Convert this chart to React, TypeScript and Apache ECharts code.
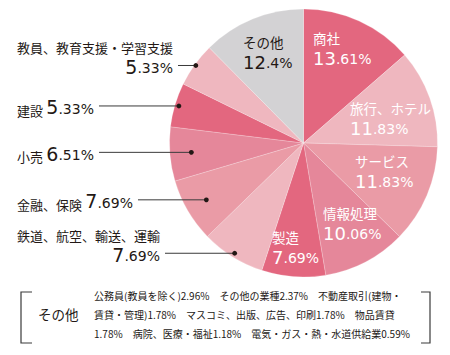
import React, { useEffect, useRef } from "react";
import * as echarts from "echarts";

// Share of employers, clockwise from the top
const categories = [
  "商社",
  "旅行、ホテル",
  "サービス",
  "情報処理",
  "製造",
  "鉄道、航空、輸送、運輸",
  "金融、保険",
  "小売",
  "建設",
  "教員、教育支援・学習支援",
  "その他",
];
const shares = [13.61, 11.83, 11.83, 10.06, 7.69, 7.69, 7.69, 6.51, 5.33, 5.33, 12.4];

// Breakdown of "その他" (line breaks mark where the note wraps)
const otherNames = [
  "公務員(教員を除く)",
  "その他の業種",
  "不動産取引(建物・\n賃貸・管理)",
  "マスコミ、出版、広告、印刷",
  "物品賃貸\n",
  "病院、医療・福祉",
  "電気・ガス・熱・水道供給業",
];
const otherShares = [2.96, 2.37, 1.78, 1.78, 1.78, 1.18, 0.59];

const DARK = "#e3677f";
const MID = "#e5879a";
const SOFT = "#ea9ba6";
const LIGHT = "#efb7bf";
const GREY = "#d3d2d4";
const sliceColors = [DARK, LIGHT, SOFT, MID, DARK, LIGHT, SOFT, MID, DARK, LIGHT, GREY];

const INK = "#231815";
const LINE = "#3a3a3a";
const CJK = '"Noto Sans CJK JP", sans-serif';
const NUM = '"DejaVu Sans", sans-serif';

// pie geometry in pixels
const CX = 303.5;
const CY = 143;
const R = 134;

// inside labels: left edge and centre of the percentage line
const insideLabelAnchor: Record<number, [number, number]> = {
  0: [313, 56],
  1: [350, 126],
  2: [355, 179],
  3: [323, 231],
  4: [272, 255],
  10: [243, 60],
};
// radial position (fraction of R) of the leader-line dot for each outside label
const dotRadial: Record<number, number> = { 5: 0.97, 6: 0.84, 7: 0.84, 8: 0.97, 9: 0.99 };
const twoLineOutside = new Set([5, 9]);
const OUT_LEFT = 17;
const LINE_H = 22;

const total = shares.reduce((a, b) => a + b, 0);
const midAngles: number[] = [];
{
  let acc = 0;
  shares.forEach((v) => {
    midAngles.push(((acc + v / 2) / total) * 360);
    acc += v;
  });
}
const polar = (deg: number, r: number): [number, number] => {
  const a = (deg * Math.PI) / 180;
  return [CX + Math.sin(a) * r, CY - Math.cos(a) * r];
};

const pctRich = (v: number) => {
  const [i, d] = v.toString().split(".");
  return `{i|${i}}{d|.${d ?? "0"}%}`;
};

const richFor = (color: string, nameSize: number, intSize: number, nameLine: number) => ({
  n: { color, fontFamily: CJK, fontSize: nameSize, lineHeight: nameLine, verticalAlign: "bottom" },
  i: { color, fontFamily: NUM, fontSize: intSize, lineHeight: LINE_H, verticalAlign: "bottom" },
  d: { color, fontFamily: NUM, fontSize: 14, lineHeight: LINE_H, verticalAlign: "bottom", padding: [0, 0, 1, 0] },
});

export default function App() {
  const ref = useRef<HTMLDivElement>(null);

  useEffect(() => {
    if (!ref.current) return;
    const chart = echarts.init(ref.current, undefined, { renderer: "svg" });

    // right edge of each outside label, filled in by labelLayout
    const labelRight: Record<number, number> = {};

    const data = categories.map((name, idx) => {
      const inside = insideLabelAnchor[idx] != null;
      const color = idx === 10 ? INK : inside ? "#ffffff" : INK;
      const text =
        inside || twoLineOutside.has(idx)
          ? `{n|${name}}\n${pctRich(shares[idx])}`
          : `{n|${name}} ${pctRich(shares[idx])}`;
      return {
        name,
        value: shares[idx],
        itemStyle: { color: sliceColors[idx] },
        label: {
          show: true,
          position: inside ? "inside" : "outside",
          formatter: text,
          align: inside ? "left" : "right",
          rich: richFor(color, inside ? 13.5 : 13, inside ? 18 : 19, inside ? 20 : LINE_H),
        },
        labelLine: { show: false },
      };
    });

    const noteText = otherNames
      .map((n, i) => `${n}${otherShares[i].toFixed(2)}%`)
      .join("　")
      .replace(/\n　/g, "\n")
      .replace(/　\n/g, "\n");

    chart.setOption({
      animation: false,
      backgroundColor: "#ffffff",
      series: [
        {
          type: "pie",
          center: [CX, CY],
          radius: [0, R],
          startAngle: 90,
          clockwise: true,
          avoidLabelOverlap: false,
          itemStyle: { borderColor: "rgba(255,255,255,0.35)", borderWidth: 0.6 },
          emphasis: { disabled: true },
          data,
          labelLayout: (p: any) => {
            const idx = p.dataIndex;
            const anchor = insideLabelAnchor[idx];
            if (anchor) {
              return { x: anchor[0], y: anchor[1] + LINE_H / 2, align: "left", verticalAlign: "bottom" };
            }
            const [, dy] = polar(midAngles[idx], dotRadial[idx] * R);
            const right = OUT_LEFT + p.labelRect.width;
            labelRight[idx] = right;
            return { x: right, y: dy + LINE_H / 2, align: "right", verticalAlign: "bottom" };
          },
        },
      ],
    });

    // leader lines and dots for the outside labels
    const leaders: any[] = [];
    Object.keys(dotRadial).forEach((k) => {
      const idx = Number(k);
      const [x, y] = polar(midAngles[idx], dotRadial[idx] * R);
      const start = (labelRight[idx] ?? OUT_LEFT + 90) + 5;
      leaders.push({
        type: "line",
        shape: { x1: start, y1: y, x2: x, y2: y },
        style: { stroke: LINE, lineWidth: 1 },
        z: 100,
      });
      leaders.push({ type: "circle", shape: { cx: x, cy: y, r: 2.4 }, style: { fill: INK }, z: 101 });
    });

    chart.setOption({
      graphic: [
        ...leaders,
        {
          type: "polyline",
          shape: { points: [[32, 292], [21, 292], [21, 343], [32, 343]] },
          style: { stroke: LINE, lineWidth: 1.2, fill: "none" },
        },
        {
          type: "polyline",
          shape: { points: [[421, 292], [430, 292], [430, 343], [421, 343]] },
          style: { stroke: LINE, lineWidth: 1.2, fill: "none" },
        },
        {
          type: "text",
          x: 38,
          y: 314,
          style: {
            text: categories[10],
            fill: INK,
            font: `13.5px ${CJK}`,
            verticalAlign: "middle",
          },
        },
        {
          type: "text",
          x: 94,
          y: 285.5,
          style: {
            text: noteText,
            fill: INK,
            font: `10px ${CJK}`,
            lineHeight: 19,
            verticalAlign: "top",
          },
        },
      ],
    });

    return () => chart.dispose();
  }, []);

  return (
    <div
      ref={ref}
      style={{ position: "fixed", left: 0, top: 0, width: 450, height: 355, background: "#fff" }}
    />
  );
}
